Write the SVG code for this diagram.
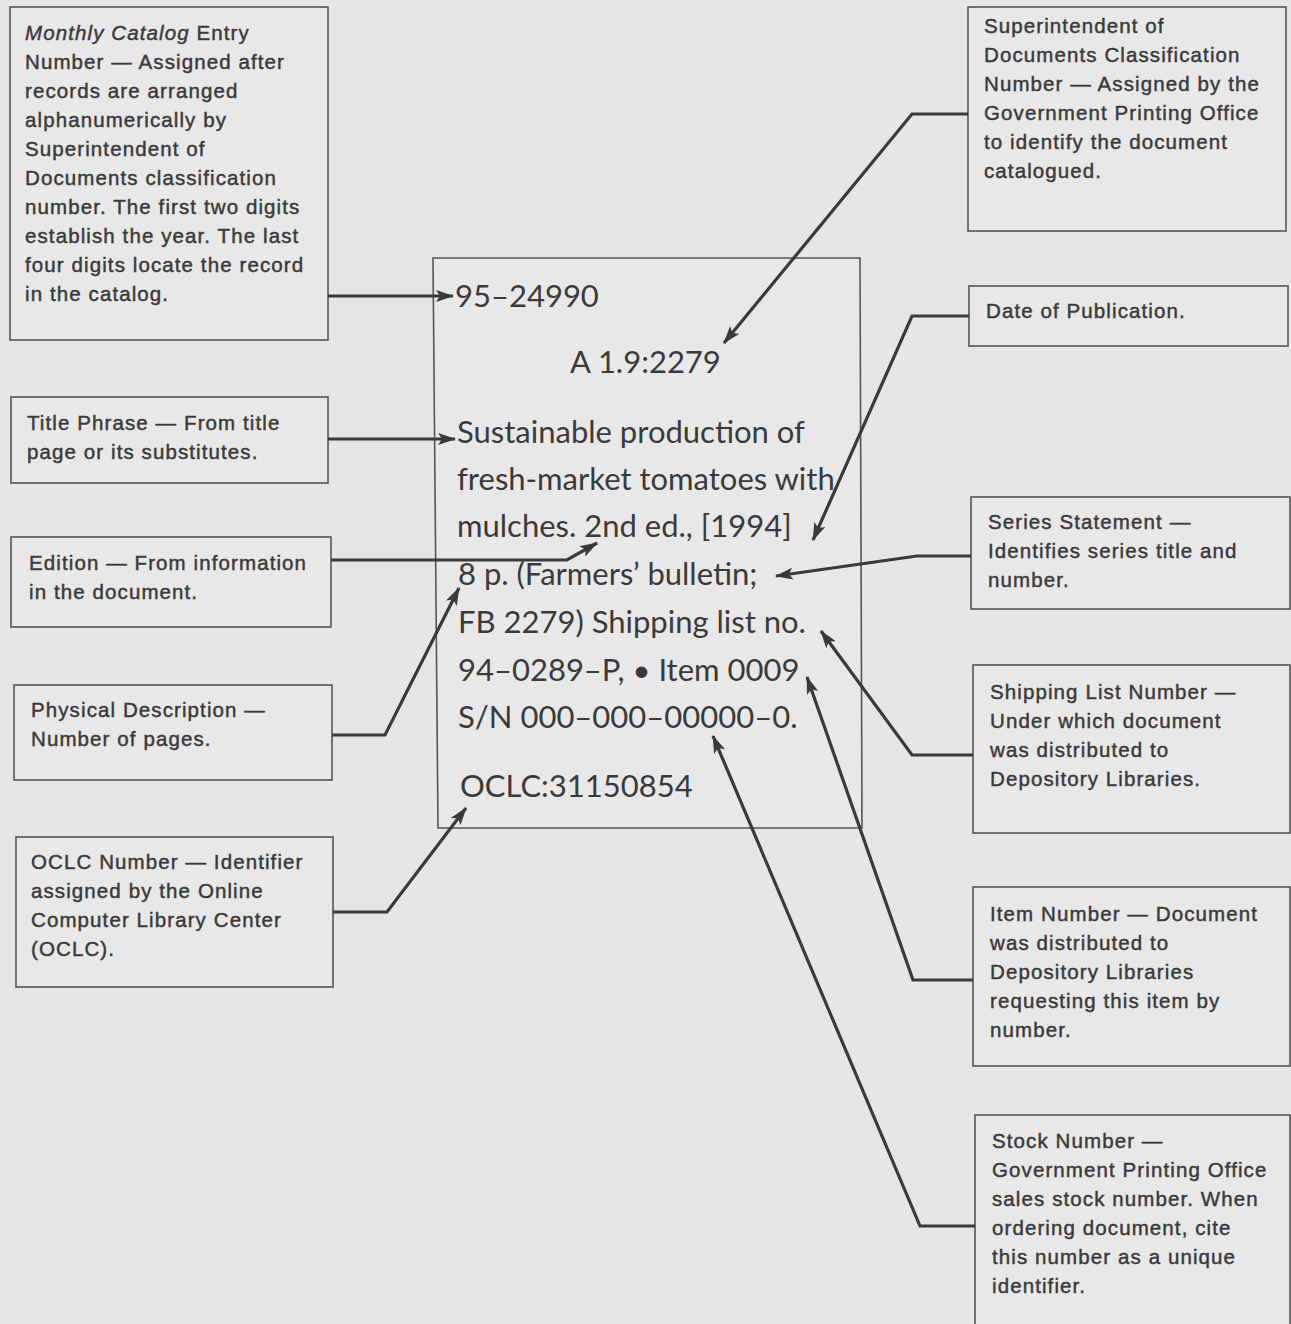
<svg xmlns="http://www.w3.org/2000/svg" width="1291" height="1324" viewBox="0 0 1291 1324">
<defs>
<style>
.bg{fill:#e6e6e6}
.box{fill:#e8e8e8;stroke:#555;stroke-width:1.6}
.t{font-family:"Liberation Sans",Arial,sans-serif;font-size:20.5px;fill:#3a3a3a;stroke:#3a3a3a;stroke-width:0.45px;letter-spacing:1.1px}
.c{font-family:Lato,"Open Sans",sans-serif;font-size:31px;fill:#3a3a3a}
.ln{fill:none;stroke:#3a3a3a;stroke-width:3.2;stroke-linejoin:miter}
</style>
<marker id="ah" viewBox="0 0 18 12" refX="17" refY="6" markerWidth="18" markerHeight="12" markerUnits="userSpaceOnUse" orient="auto">
<path d="M0,0 L18,6 L0,12 L4,6 Z" fill="#3a3a3a"/>
</marker>
</defs>
<rect class="bg" x="0" y="0" width="1291" height="1324"/>

<g id="record">
<polygon points="433,258 860,258 862,828 438,828" fill="#e8e8e8" stroke="#555" stroke-width="1.6"/>
<text class="c" x="455" y="307">95–24990</text>
<text class="c" x="570" y="373">A 1.9:2279</text>
<text class="c" x="457" y="443">Sustainable production of</text>
<text class="c" x="457" y="490">fresh-market tomatoes with</text>
<text class="c" x="457" y="537">mulches. 2nd ed., [1994]</text>
<text class="c" x="458" y="585">8 p. (Farmers’ bulletin;</text>
<text class="c" x="458" y="633">FB 2279) Shipping list no.</text>
<text class="c" x="458" y="681">94–0289–P, • Item 0009</text>
<text class="c" x="458" y="728">S/N 000–000–00000–0.</text>
<text class="c" x="460" y="797">OCLC:31150854</text>
</g>

<g id="n-monthly">
<rect class="box" x="10" y="7" width="318" height="333"/>
<text class="t" x="25" y="40"><tspan font-style="italic">Monthly Catalog</tspan> Entry</text>
<text class="t" x="25" y="69">Number — Assigned after</text>
<text class="t" x="25" y="98">records are arranged</text>
<text class="t" x="25" y="127">alphanumerically by</text>
<text class="t" x="25" y="156">Superintendent of</text>
<text class="t" x="25" y="185">Documents classification</text>
<text class="t" x="25" y="214">number. The first two digits</text>
<text class="t" x="25" y="243">establish the year. The last</text>
<text class="t" x="25" y="272">four digits locate the record</text>
<text class="t" x="25" y="301">in the catalog.</text>
</g>

<g id="n-title">
<rect class="box" x="11" y="397" width="317" height="86"/>
<text class="t" x="27" y="430">Title Phrase — From title</text>
<text class="t" x="27" y="459">page or its substitutes.</text>
</g>

<g id="n-edition">
<rect class="box" x="11" y="537" width="320" height="90"/>
<text class="t" x="29" y="570">Edition — From information</text>
<text class="t" x="29" y="599">in the document.</text>
</g>

<g id="n-physical">
<rect class="box" x="14" y="685" width="318" height="95"/>
<text class="t" x="31" y="717">Physical Description —</text>
<text class="t" x="31" y="746">Number of pages.</text>
</g>

<g id="n-oclc">
<rect class="box" x="16" y="837" width="317" height="150"/>
<text class="t" x="31" y="869">OCLC Number — Identifier</text>
<text class="t" x="31" y="898">assigned by the Online</text>
<text class="t" x="31" y="927">Computer Library Center</text>
<text class="t" x="31" y="956">(OCLC).</text>
</g>

<g id="n-sudoc">
<rect class="box" x="968" y="7" width="318" height="224"/>
<text class="t" x="984" y="33">Superintendent of</text>
<text class="t" x="984" y="62">Documents Classification</text>
<text class="t" x="984" y="91">Number — Assigned by the</text>
<text class="t" x="984" y="120">Government Printing Office</text>
<text class="t" x="984" y="149">to identify the document</text>
<text class="t" x="984" y="178">catalogued.</text>
</g>

<g id="n-date">
<rect class="box" x="969" y="286" width="319" height="60"/>
<text class="t" x="986" y="318">Date of Publication.</text>
</g>

<g id="n-series">
<rect class="box" x="971" y="497" width="319" height="112"/>
<text class="t" x="988" y="529">Series Statement —</text>
<text class="t" x="988" y="558">Identifies series title and</text>
<text class="t" x="988" y="587">number.</text>
</g>

<g id="n-shipping">
<rect class="box" x="973" y="665" width="317" height="168"/>
<text class="t" x="990" y="699">Shipping List Number —</text>
<text class="t" x="990" y="728">Under which document</text>
<text class="t" x="990" y="757">was distributed to</text>
<text class="t" x="990" y="786">Depository Libraries.</text>
</g>

<g id="n-item">
<rect class="box" x="973" y="887" width="317" height="179"/>
<text class="t" x="990" y="921">Item Number — Document</text>
<text class="t" x="990" y="950">was distributed to</text>
<text class="t" x="990" y="979">Depository Libraries</text>
<text class="t" x="990" y="1008">requesting this item by</text>
<text class="t" x="990" y="1037">number.</text>
</g>

<g id="n-stock">
<rect class="box" x="975" y="1115" width="315" height="215"/>
<text class="t" x="992" y="1148">Stock Number —</text>
<text class="t" x="992" y="1177">Government Printing Office</text>
<text class="t" x="992" y="1206">sales stock number. When</text>
<text class="t" x="992" y="1235">ordering document, cite</text>
<text class="t" x="992" y="1264">this number as a unique</text>
<text class="t" x="992" y="1293">identifier.</text>
</g>

<g id="connectors">
<path class="ln" marker-end="url(#ah)" d="M328,296 L453,296"/>
<path class="ln" marker-end="url(#ah)" d="M328,439 L455,439"/>
<path class="ln" marker-end="url(#ah)" d="M331,560 L567,560 L597,543"/>
<path class="ln" marker-end="url(#ah)" d="M332,735 L385,735 L459,588"/>
<path class="ln" marker-end="url(#ah)" d="M333,912 L387,912 L466,808"/>
<path class="ln" marker-end="url(#ah)" d="M968,114 L912,114 L724,343"/>
<path class="ln" marker-end="url(#ah)" d="M969,316 L912,316 L813,540"/>
<path class="ln" marker-end="url(#ah)" d="M971,556 L917,556 L776,576"/>
<path class="ln" marker-end="url(#ah)" d="M973,755 L912,755 L821,631"/>
<path class="ln" marker-end="url(#ah)" d="M973,980 L913,980 L807,677"/>
<path class="ln" marker-end="url(#ah)" d="M975,1226 L920,1226 L713,736"/>
</g>
</svg>
